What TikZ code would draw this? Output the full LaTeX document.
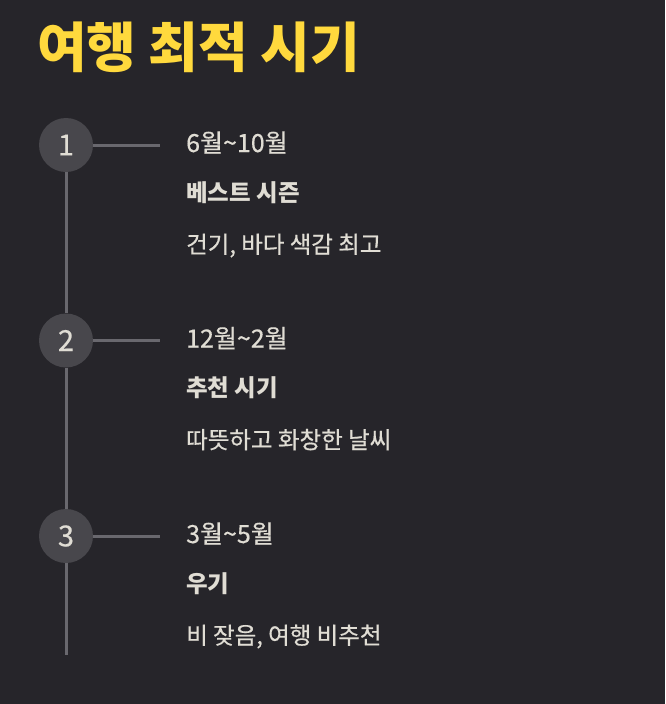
\documentclass[tikz,border=0pt]{standalone}
\usepackage{fontspec}
\setmainfont{Noto Sans CJK KR}
\newfontfamily\medfont{Noto Sans CJK KR}[FakeBold=0.5]
\usepackage{tikz}
\definecolor{bgdark}{RGB}{38,37,42}
\definecolor{circfill}{RGB}{72,71,76}
\definecolor{linegrey}{RGB}{105,104,110}
\definecolor{txtlight}{RGB}{224,221,212}
\definecolor{titleyellow}{RGB}{255,217,61}

\begin{document}
\begin{tikzpicture}[x=1pt, y=-1pt,
	stepnum/.style={circle, fill=circfill, minimum size=54pt, inner sep=0pt, text=txtlight, font=\medfont\fontsize{29}{31}\selectfont},
	datetxt/.style={anchor=base west, inner sep=0pt, text=txtlight, font=\medfont\fontsize{25}{28}\selectfont},
	headtxt/.style={anchor=base west, inner sep=0pt, text=txtlight, font=\bfseries\fontsize{23.5}{26}\selectfont},
	desctxt/.style={anchor=base west, inner sep=0pt, text=txtlight, font=\medfont\fontsize{23.5}{26}\selectfont},
	tline/.style={draw=linegrey, line width=3pt}]
	\fill[bgdark] (0,0) rectangle (665,704);
	\useasboundingbox (0,0) rectangle (665,704);
	% title
	\node[anchor=base west, inner sep=0pt, text=titleyellow, font=\bfseries\fontsize{54}{58}\selectfont] (title) at (37,67) {여행 최적 시기};
	% steps
	\node[stepnum] (c1) at (66,145) {1};
	\node[stepnum] (c2) at (66,340.5) {2};
	\node[stepnum] (c3) at (66,536) {3};
	\coordinate (e1) at (160,145);
	\coordinate (e2) at (160,340.5);
	\coordinate (e3) at (160,536);
	\coordinate (bot) at (66,655);
	\draw[tline] (c1) -- (c2);
	\draw[tline] (c2) -- (c3);
	\draw[tline] (c3) -- (bot);
	\draw[tline] (c1) -- (e1);
	\draw[tline] (c2) -- (e2);
	\draw[tline] (c3) -- (e3);
	% texts
	\node[datetxt] (d1) at (186,152) {6월\textasciitilde 10월};
	\node[headtxt] (h1) at (186,201) {베스트 시즌};
	\node[desctxt] (t1) at (186,253) {건기, 바다 색감 최고};
	\node[datetxt] (d2) at (186,347.5) {12월\textasciitilde 2월};
	\node[headtxt] (h2) at (186,396.5) {추천 시기};
	\node[desctxt] (t2) at (186,448.5) {따뜻하고 화창한 날씨};
	\node[datetxt] (d3) at (186,543) {3월\textasciitilde 5월};
	\node[headtxt] (h3) at (186,592) {우기};
	\node[desctxt] (t3) at (186,644) {비 잦음, 여행 비추천};
\end{tikzpicture}
\end{document}
